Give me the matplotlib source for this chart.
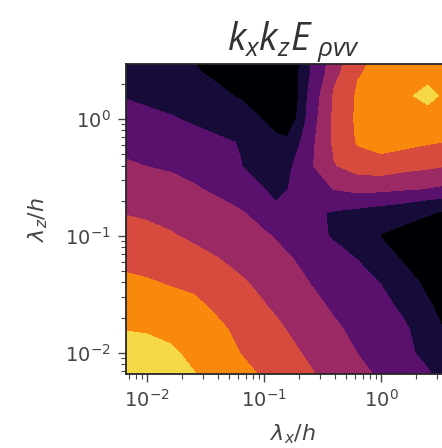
import numpy as np
import matplotlib
matplotlib.use('Agg')
import matplotlib.pyplot as plt

plt.rcParams['mathtext.fontset'] = 'dejavusans'
plt.rcParams['mathtext.rm'] = 'Open Sans'
plt.rcParams['mathtext.it'] = 'Open Sans:italic'

# wavelengths (lambda/h) of the grid
lam_x = [0.0063, 0.010, 0.016, 0.025, 0.040, 0.063, 0.100, 0.126, 0.158,
         0.251, 0.398, 0.631, 1.00, 1.58, 2.51, 3.98, 6.31]
lam_z = [0.0063, 0.010, 0.016, 0.025, 0.040, 0.063, 0.100, 0.158, 0.251,
         0.398, 0.631, 1.00, 1.58, 2.51, 3.98]

# premultiplied spectrum, in contour-band units (rows = lam_z, bottom to top)
spec = [
    [6.40, 6.10, 5.85, 5.55, 5.15, 4.78, 4.41, 4.20, 4.01, 3.59, 3.18, 2.76, 2.37, 2.01, 1.63, 0.98, 0.00],
    [6.00, 5.80, 5.60, 5.30, 4.85, 4.48, 4.10, 3.90, 3.72, 3.31, 2.90, 2.48, 2.10, 1.72, 1.17, 0.47, 0.00],
    [5.45, 5.40, 5.28, 5.05, 4.65, 4.26, 3.86, 3.66, 3.46, 3.04, 2.62, 2.26, 1.94, 1.61, 0.97, 0.20, 0.00],
    [5.03, 4.96, 4.78, 4.68, 4.32, 3.93, 3.55, 3.35, 3.15, 2.73, 2.36, 2.03, 1.72, 1.30, 0.61, 0.00, 0.00],
    [4.66, 4.57, 4.42, 4.27, 4.00, 3.60, 3.24, 3.05, 2.86, 2.47, 2.15, 1.81, 1.47, 0.87, 0.24, 0.00, 0.00],
    [4.26, 4.14, 3.98, 3.78, 3.53, 3.21, 2.90, 2.74, 2.58, 2.22, 1.86, 1.48, 0.94, 0.37, 0.00, 0.00, 0.00],
    [3.86, 3.74, 3.57, 3.32, 3.09, 2.84, 2.60, 2.43, 2.25, 1.80, 1.37, 0.90, 0.46, 0.20, 0.10, 0.10, 0.10],
    [3.46, 3.34, 3.17, 2.98, 2.78, 2.57, 2.12, 1.70, 1.75, 1.60, 1.43, 1.26, 1.08, 0.90, 0.57, 0.30, 0.20],
    [3.03, 2.90, 2.76, 2.58, 2.33, 1.88, 1.52, 1.20, 1.48, 2.24, 2.52, 2.79, 2.72, 2.57, 2.45, 2.30, 2.20],
    [2.61, 2.48, 2.37, 2.19, 2.02, 1.52, 1.00, 0.95, 1.30, 2.40, 3.45, 4.00, 4.20, 3.90, 3.72, 3.45, 3.30],
    [2.20, 2.08, 1.95, 1.78, 1.63, 1.45, 0.83, 0.65, 0.70, 2.29, 3.70, 4.60, 4.85, 4.80, 4.60, 4.40, 4.20],
    [1.82, 1.68, 1.56, 1.37, 1.14, 0.90, 0.45, 0.20, -0.30, 2.10, 3.72, 4.70, 5.10, 5.30, 5.25, 4.90, 4.50],
    [1.45, 1.30, 1.15, 0.93, 0.67, 0.40, 0.15, -0.10, -0.50, 1.92, 3.63, 4.65, 5.10, 5.40, 5.70, 5.20, 4.90],
    [1.20, 1.10, 0.83, 0.58, 0.30, 0.15, 0.05, -0.10, -0.30, 1.55, 3.22, 4.40, 4.90, 5.20, 5.20, 5.00, 4.80],
    [1.00, 0.90, 0.65, 0.35, 0.10, 0.00, -0.10, -0.20, -0.40, 1.45, 2.97, 4.10, 4.70, 5.00, 5.00, 4.90, 4.70],
]

levels = [-1.0, 0.5, 1.5, 2.5, 3.5, 4.5, 5.5, 7.0]
band_pos = [0.0, 0.1, 0.26, 0.42, 0.58, 0.74, 0.9]
colors = [plt.cm.inferno(p) for p in band_pos]

fig = plt.figure(figsize=(4.42, 4.48), dpi=100)
ax = fig.add_axes([126/442, 74/448, 334/442, 310/448])

X, Y = np.meshgrid(lam_x, lam_z)
ax.contourf(X, Y, np.array(spec), levels=levels, colors=colors)

ax.set_xscale('log')
ax.set_yscale('log')
ax.set_xlim(0.0066, 4.73)
ax.set_ylim(0.0066, 2.95)

grey = '#454545'
ax.set_title(r'$k_xk_zE_{\ \rho vv}$', fontsize=27, color='#333333', pad=10,
             math_fontfamily='custom')
ax.set_xlabel(r'$\lambda_x/h$', fontsize=16, color=grey, labelpad=8)
ax.set_ylabel(r'$\lambda_z/h$', fontsize=16, color=grey, labelpad=11)

ax.tick_params(which='major', length=6, width=1, colors=grey, labelsize=14, pad=5)
ax.tick_params(which='minor', length=3.5, width=0.8, colors=grey)
for s in ax.spines.values():
    s.set_color('#262626')
    s.set_linewidth(1.3)

fig.savefig('out.png', dpi=100)
